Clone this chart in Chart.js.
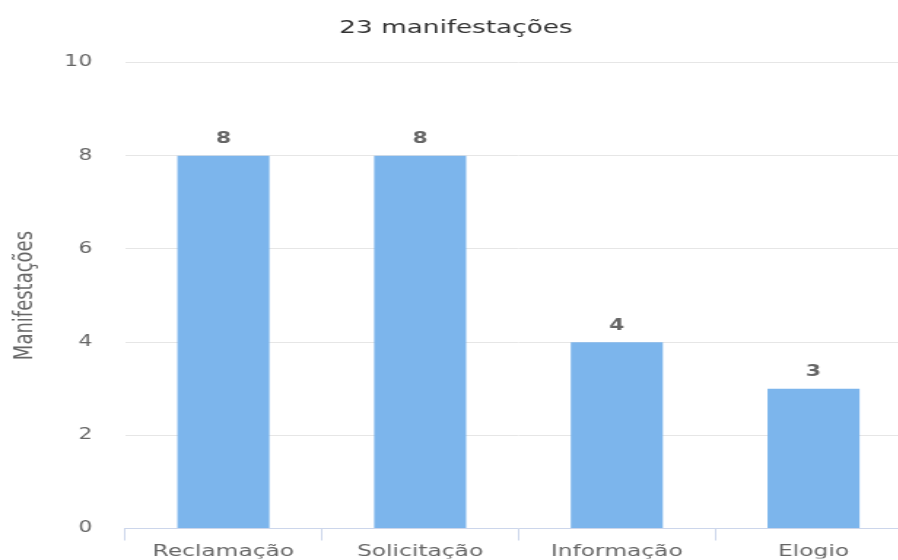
<!DOCTYPE html>
<html>
<head>
<meta charset="utf-8">
<script src="https://cdn.jsdelivr.net/npm/chart.js@4/dist/chart.umd.min.js"></script>
<style>
  html, body { margin: 0; padding: 0; background: #fff; overflow: hidden; width: 898px; height: 560px; }
  #wrap { position: absolute; left: 0; top: 0; transform: scaleX(1.459); transform-origin: 0 0; }
  canvas { display: block; }
</style>
</head>
<body>
<div id="wrap"><canvas id="c" width="625" height="560"></canvas></div>
<script>
const chartTitle = "23 manifestações";
const categories = ["Reclamação", "Solicitação", "Informação", "Elogio"];
const values = [8, 8, 4, 3];
const yTitle = "Manifestações";
const yMin = 0, yMax = 10, yStep = 2;

const FONT = "'DejaVu Sans', Verdana, sans-serif";

const valueLabels = {
  id: 'valueLabels',
  afterDatasetsDraw(chart) {
    const ctx = chart.ctx;
    const meta = chart.getDatasetMeta(0);
    ctx.save();
    ctx.font = "bold 15px " + FONT;
    ctx.fillStyle = "#666666";
    ctx.textAlign = "center";
    ctx.textBaseline = "bottom";
    meta.data.forEach((bar, i) => {
      ctx.fillText(String(chart.data.datasets[0].data[i]), bar.x, bar.y - 9);
    });
    ctx.restore();
  }
};

new Chart(document.getElementById('c'), {
  type: 'bar',
  data: {
    labels: categories,
    datasets: [{
      label: yTitle,
      data: values,
      backgroundColor: '#7cb5ec',
      borderWidth: 0,
      categoryPercentage: 1,
      barPercentage: 0.468
    }]
  },
  options: {
    responsive: false,
    devicePixelRatio: 1,
    animation: false,
    layout: { padding: 0 },
    plugins: {
      legend: { display: false },
      tooltip: { enabled: false },
      title: {
        display: true,
        text: chartTitle,
        color: '#333333',
        font: { family: FONT, size: 18, weight: 'normal' },
        padding: { top: 18, bottom: 23 }
      }
    },
    scales: {
      x: {
        grid: {
          offset: true,
          drawOnChartArea: false,
          drawTicks: true,
          tickLength: 12,
          color: '#ccd6eb'
        },
        border: { display: true, color: '#ccd6eb' },
        ticks: {
          color: '#666666',
          font: { family: FONT, size: 16 },
          padding: 2,
          maxRotation: 0
        },
        afterFit(scale) { scale.height = 30; }
      },
      y: {
        min: yMin,
        max: yMax,
        ticks: {
          stepSize: yStep,
          color: '#666666',
          font: { family: FONT, size: 15 },
          padding: 22.5
        },
        grid: { color: '#e6e6e6', drawTicks: false },
        border: { display: false },
        title: {
          display: true,
          text: yTitle,
          color: '#666666',
          font: { family: FONT, size: 18 },
          padding: { top: 7, bottom: 0 }
        },
        afterFit(scale) { scale.width = 85.7; }
      }
    }
  },
  plugins: [valueLabels]
});
</script>
</body>
</html>
